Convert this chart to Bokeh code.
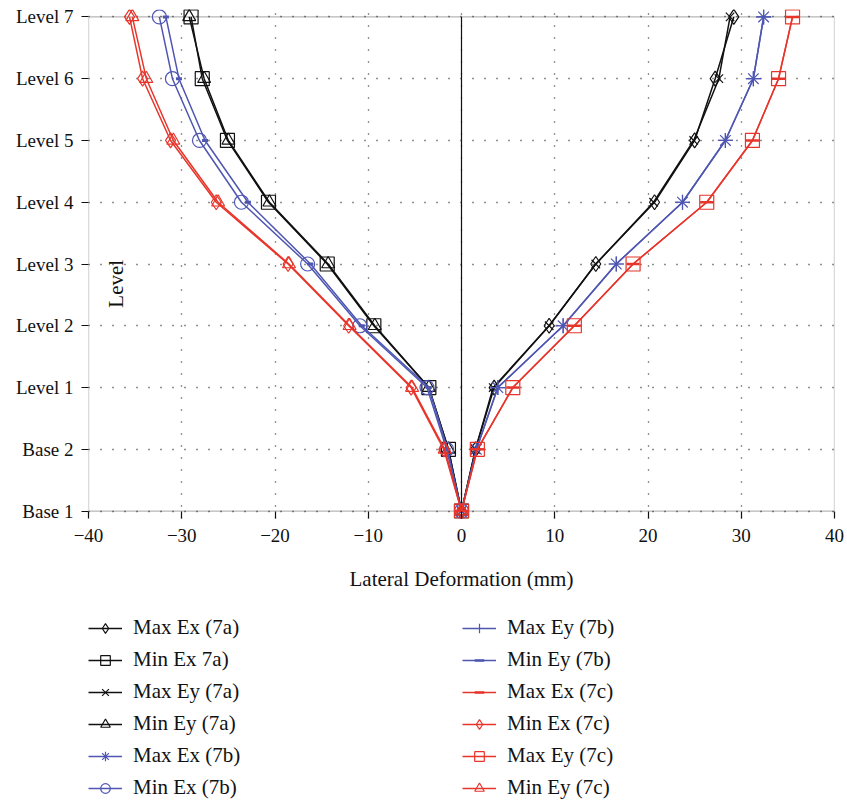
from math import pi
from bokeh.plotting import figure
from bokeh.layouts import column
from bokeh.models import (Legend, LegendItem, FixedTicker, Label, Range1d,
                          BoxAnnotation)
from bokeh.embed import file_html
from bokeh.resources import INLINE

# ---------------- data ----------------
level_labels = ["Base 1", "Base 2", "Level 1", "Level 2", "Level 3",
                "Level 4", "Level 5", "Level 6", "Level 7"]
level_pos = list(range(len(level_labels)))
x_ticks = [-40, -30, -20, -10, 0, 10, 20, 30, 40]
x_tick_labels = ["\u221240", "\u221230", "\u221220", "\u221210", "0", "10", "20", "30", "40"]

max_ex_7a = [0, 1.5, 3.5, 9.4, 14.4, 20.7, 25.0, 27.2, 29.2]
min_ex_7a = [0, -1.4, -3.5, -9.4, -14.4, -20.7, -25.1, -27.8, -29.0]
max_ey_7a = [0, 1.5, 3.4, 9.4, 14.4, 20.6, 24.9, 27.6, 28.8]
min_ey_7a = [0, -1.4, -3.5, -9.3, -14.3, -20.6, -25.0, -27.6, -29.2]
max_ex_7b = [0, 1.6, 3.9, 10.9, 16.6, 23.7, 28.3, 31.3, 32.4]
min_ex_7b = [0, -1.6, -3.7, -10.9, -16.5, -23.6, -28.1, -31.0, -32.4]
max_ey_7b = [0, 1.6, 3.9, 10.9, 16.6, 23.7, 28.3, 31.3, 32.4]
min_ey_7b = [0, -1.5, -3.5, -10.7, -16.2, -22.9, -27.5, -30.3, -31.7]
max_ex_7c = [0, 1.7, 5.5, 12.1, 18.4, 26.3, 31.2, 34.0, 35.5]
min_ex_7c = [0, -1.9, -5.4, -12.1, -18.6, -26.3, -31.2, -34.2, -35.6]
max_ey_7c = [0, 1.7, 5.5, 12.1, 18.4, 26.3, 31.2, 34.0, 35.5]
min_ey_7c = [0, -1.8, -5.3, -12.0, -18.5, -26.1, -30.9, -33.8, -35.3]

BLACK = "#111111"
BLUE = "#4E56B2"
RED = "#E8352B"
FONT = "Liberation Serif"

series = [
    ("Max Ex (7a)", max_ex_7a, BLACK, "diamond", 15, 1.2),
    ("Min Ex 7a)", min_ex_7a, BLACK, "square", 14, 1.2),
    ("Max Ey (7a)", max_ey_7a, BLACK, "x", 12, 1.2),
    ("Min Ey (7a)", min_ey_7a, BLACK, "triangle", 13, 1.2),
    ("Max Ex (7b)", max_ex_7b, BLUE, "asterisk", 15, 1.2),
    ("Min Ex (7b)", min_ex_7b, BLUE, "circle", 14, 1.2),
    ("Max Ey (7b)", max_ey_7b, BLUE, "cross", 15, 1.2),
    ("Min Ey (7b)", min_ey_7b, BLUE, "dash", 6, 3),
    ("Max Ex (7c)", max_ex_7c, RED, "dash", 13, 2.5),
    ("Min Ex (7c)", min_ex_7c, RED, "diamond", 15, 1.2),
    ("Max Ey (7c)", max_ey_7c, RED, "square", 14, 1.2),
    ("Min Ey (7c)", min_ey_7c, RED, "triangle", 13, 1.2),
]

PAD = 0.12  # small range padding so end markers are not clipped

# ---------------- main figure ----------------
p = figure(width=847, height=605, x_range=Range1d(-40, 40),
           y_range=Range1d(level_pos[0] - PAD, level_pos[-1] + PAD),
           output_backend="svg", toolbar_location=None,
           min_border_left=88, min_border_right=13, min_border_top=9, min_border_bottom=87)
p.background_fill_color = "white"
p.border_fill_color = "white"
p.outline_line_color = None

p.xaxis.ticker = FixedTicker(ticks=x_ticks)
p.xaxis.major_label_overrides = {t: l for t, l in zip(x_ticks, x_tick_labels)}
p.yaxis.ticker = FixedTicker(ticks=level_pos)
p.yaxis.major_label_overrides = {t: l for t, l in zip(level_pos, level_labels)}

for ax in (p.xaxis, p.yaxis):
    ax.axis_line_color = None
    ax.major_tick_line_color = "#111111"
    ax.major_tick_line_width = 1.2
    ax.minor_tick_line_color = None
    ax.major_label_text_font = FONT
    ax.major_label_text_font_size = "19px"
    ax.major_label_text_color = "#111111"

p.yaxis.major_tick_in = 0
p.yaxis.major_tick_out = 7
p.yaxis.major_label_standoff = 8
p.xaxis.major_tick_in = 7
p.xaxis.major_tick_out = 0
p.xaxis.major_label_standoff = 10

p.xaxis.axis_label = "Lateral Deformation (mm)"
p.xaxis.axis_label_text_font = FONT
p.xaxis.axis_label_text_font_size = "21px"
p.xaxis.axis_label_text_font_style = "normal"
p.xaxis.axis_label_text_color = "#111111"
p.xaxis.axis_label_standoff = 22

for g in (p.xgrid, p.ygrid):
    g.grid_line_color = "#222222"
    g.grid_line_dash = "1 11"
    g.grid_line_width = 1.3
p.xgrid.bounds = (level_pos[0], level_pos[-1])

# frame drawn exactly from Base 1 to Level 7
p.add_layout(BoxAnnotation(left=x_ticks[0], right=x_ticks[-1],
                           bottom=level_pos[0], top=level_pos[-1],
                           fill_color=None, line_color="#111111", line_width=1.3,
                           level="underlay"))
# zero line
p.segment(x0=[0], y0=[level_pos[0]], x1=[0], y1=[level_pos[-1]],
          line_color="#111111", line_width=1.2)

p.add_layout(Label(x=-37.1, y=3.68, text="Level", angle=pi / 2, angle_units="rad",
                   text_align="center", text_baseline="middle",
                   text_font=FONT, text_font_size="21px", text_color="#111111"))

for name, vals, color, marker, size, lw in series:
    p.line(vals, level_pos, line_color=color, line_width=1.5)
    p.scatter(vals, level_pos, marker=marker, size=size, line_color=color,
              fill_color=None, line_width=lw)

# ---------------- legend figure ----------------
# (proxy renderers carry the same data, but the view range lies outside it,
#  so only their legend samples are visible)
q = figure(width=847, height=198, x_range=Range1d(1000, 1001), y_range=Range1d(1000, 1001),
           output_backend="svg", toolbar_location=None,
           x_axis_type=None, y_axis_type=None,
           min_border_left=0, min_border_right=0, min_border_top=0, min_border_bottom=0)
q.outline_line_color = None
q.grid.visible = False
q.background_fill_color = "white"
q.border_fill_color = "white"

items = []
for name, vals, color, marker, size, lw in series:
    lr = q.line(vals, level_pos, line_color=color, line_width=1.5)
    sr = q.scatter(vals, level_pos, marker=marker, size=size, line_color=color,
                   fill_color=None, line_width=min(lw, 2.5))
    items.append(LegendItem(label=name, renderers=[lr, sr]))

for start, xoff in [(0, 0), (6, 374)]:
    leg = Legend(items=items[start:start + 6], location=(xoff, 3),
                 orientation="vertical", padding=0, margin=0, spacing=7,
                 glyph_width=34, glyph_height=24, label_height=24, label_standoff=11,
                 label_text_font=FONT, label_text_font_size="21px",
                 label_text_color="#111111", border_line_color=None,
                 background_fill_alpha=0)
    q.add_layout(leg)

layout = column(p, q, spacing=0)
open("out.html", "w").write(file_html(layout, INLINE))
